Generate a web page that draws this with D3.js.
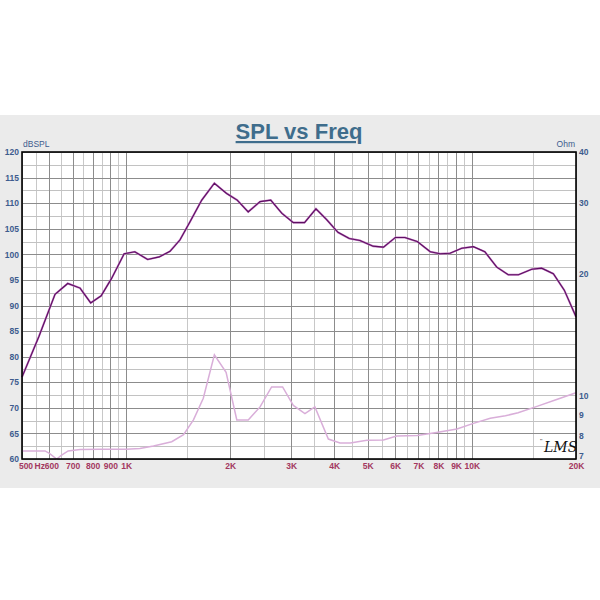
<!DOCTYPE html>
<html lang="en">
<head>
<meta charset="UTF-8">
<title>SPL vs Freq</title>
<script src="https://d3js.org/d3.v7.min.js"></script>
<style>
  body { margin: 0; background: #fff; }
  svg { display: block; font-family: Arial, "Liberation Sans", sans-serif; }
</style>
</head>
<body>
<div id="chart"></div>
<script>
// SPL curve (Hz, dB)
const splFreq = [500, 560, 623, 678, 736, 790, 847, 908, 987, 1060, 1154, 1247, 1340, 1431, 1532, 1655, 1800, 1953, 2095, 2255, 2440, 2620, 2822, 3045, 3281, 3540, 3800, 4100, 4420, 4745, 5180, 5550, 6010, 6400, 6950, 7580, 8090, 8640, 9350, 10100, 10900, 11800, 12740, 13630, 14900, 15900, 17200, 18500, 20000];
const splDb = [76.0, 84.0, 92.2, 94.3, 93.4, 90.5, 91.9, 95.3, 100.1, 100.5, 99.0, 99.5, 100.6, 102.8, 106.4, 110.6, 113.9, 111.9, 110.6, 108.3, 110.3, 110.6, 108.0, 106.2, 106.2, 108.9, 106.8, 104.3, 103.1, 102.7, 101.6, 101.4, 103.3, 103.3, 102.5, 100.5, 100.1, 100.2, 101.2, 101.5, 100.5, 97.5, 96.0, 96.0, 97.1, 97.3, 96.2, 93.0, 87.8];

// impedance curve (Hz, Ohm)
const zFreq = [500, 583, 600, 630, 651, 680, 736, 840, 1000, 1096, 1200, 1355, 1466, 1566, 1672, 1800, 1946, 2090, 2255, 2440, 2635, 2835, 3045, 3290, 3515, 3845, 4155, 4450, 4970, 5550, 6060, 6950, 7900, 9050, 10100, 11300, 12500, 13600, 15500, 17500, 20000];
const zOhm = [7.33, 7.33, 7.23, 7.0, 7.16, 7.33, 7.39, 7.40, 7.40, 7.43, 7.54, 7.72, 8.04, 8.74, 9.88, 12.64, 11.45, 8.74, 8.74, 9.41, 10.54, 10.54, 9.49, 9.06, 9.41, 7.84, 7.67, 7.67, 7.79, 7.80, 7.98, 8.00, 8.14, 8.30, 8.57, 8.82, 8.95, 9.10, 9.45, 9.80, 10.2];

// axes
const freqTicks = [500, 600, 700, 800, 900, 1000, 2000, 3000, 4000, 5000, 6000, 7000, 8000, 9000, 10000, 20000];
const freqLabels = ["500", "600", "700", "800", "900", "1K", "2K", "3K", "4K", "5K", "6K", "7K", "8K", "9K", "10K", "20K"];
const freqMinor = [550, 650, 750, 850, 950, 1500, 2500, 3500, 4500, 5500, 6500, 7500, 8500, 9500, 15000];
const dbTicks = [60, 65, 70, 75, 80, 85, 90, 95, 100, 105, 110, 115, 120];
const dbMinor = [62.5, 67.5, 72.5, 77.5, 82.5, 87.5, 92.5, 97.5, 102.5, 107.5, 112.5, 117.5];
const ohmTicks = [7, 8, 9, 10, 20, 30, 40];

const W = 600, H = 600;
const plot = { left: 22, right: 576, top: 152, bottom: 459 };

const svg = d3.select("#chart").append("svg")
    .attr("width", W)
    .attr("height", H);

// grey panel
svg.append("rect")
    .attr("x", 0).attr("y", 115)
    .attr("width", W).attr("height", 373)
    .attr("fill", "#ebebeb");

// title
svg.append("text")
    .attr("x", 299).attr("y", 139)
    .attr("text-anchor", "middle")
    .attr("font-size", 22)
    .attr("font-weight", "bold")
    .attr("fill", "#3f6d8c")
    .attr("text-decoration", "underline")
    .text("SPL vs Freq");

const x = d3.scaleLog().domain([500, 20000]).range([plot.left, plot.right]);
const y = d3.scaleLinear().domain([60, 120]).range([plot.bottom, plot.top]);
const yz = d3.scaleLog().domain([7, 40]).range([plot.bottom, plot.top]);

svg.append("rect")
    .attr("x", plot.left).attr("y", plot.top)
    .attr("width", plot.right - plot.left)
    .attr("height", plot.bottom - plot.top)
    .attr("fill", "#fff");

const grid = svg.append("g");

// minor grid
grid.selectAll(".vminor").data(freqMinor).enter().append("line")
    .attr("x1", d => Math.round(x(d)) + 0.5).attr("x2", d => Math.round(x(d)) + 0.5)
    .attr("y1", plot.top).attr("y2", plot.bottom)
    .attr("stroke", "#c8c8c8");
grid.selectAll(".hminor").data(dbMinor).enter().append("line")
    .attr("x1", plot.left).attr("x2", plot.right)
    .attr("y1", d => Math.round(y(d)) + 0.5).attr("y2", d => Math.round(y(d)) + 0.5)
    .attr("stroke", "#c2c2c2");

// major grid
grid.selectAll(".vmajor").data(freqTicks).enter().append("line")
    .attr("x1", d => Math.round(x(d)) + 0.5).attr("x2", d => Math.round(x(d)) + 0.5)
    .attr("y1", plot.top).attr("y2", plot.bottom)
    .attr("stroke", "#8c8c8c");
grid.selectAll(".hmajor").data(dbTicks).enter().append("line")
    .attr("x1", plot.left).attr("x2", plot.right)
    .attr("y1", d => Math.round(y(d)) + 0.5).attr("y2", d => Math.round(y(d)) + 0.5)
    .attr("stroke", "#8c8c8c");

// curves
const zLine = d3.line()
    .x((d, i) => x(zFreq[i]))
    .y(d => yz(d));
svg.append("path")
    .datum(zOhm)
    .attr("d", zLine)
    .attr("fill", "none")
    .attr("stroke", "#d9aed9")
    .attr("stroke-width", 1.5);

const splLine = d3.line()
    .x((d, i) => x(splFreq[i]))
    .y(d => y(d));
svg.append("path")
    .datum(splDb)
    .attr("d", splLine)
    .attr("fill", "none")
    .attr("stroke", "#c07ac0")
    .attr("stroke-width", 2.0);
svg.append("path")
    .datum(splDb)
    .attr("d", splLine)
    .attr("fill", "none")
    .attr("stroke", "#5e0f63")
    .attr("stroke-width", 1.1);

// frame
svg.append("rect")
    .attr("x", plot.left).attr("y", plot.top)
    .attr("width", plot.right - plot.left)
    .attr("height", plot.bottom - plot.top)
    .attr("fill", "none")
    .attr("stroke", "#000")
    .attr("stroke-width", 1.6);

// left axis
const leftAxis = svg.append("g")
    .attr("transform", `translate(${plot.left - 2},0)`)
    .call(d3.axisLeft(y).tickValues(dbTicks).tickSize(0).tickPadding(1));
leftAxis.select(".domain").remove();
leftAxis.selectAll("text")
    .attr("font-family", "Arial, 'Liberation Sans', sans-serif")
    .attr("font-size", 8.5)
    .attr("font-weight", "bold")
    .attr("fill", "#3d5c8e");

svg.append("text")
    .attr("x", plot.left + 1).attr("y", plot.top - 5)
    .attr("font-size", 8.5)
    .attr("fill", "#3d5c8e")
    .text("dBSPL");

// right axis
const rightAxis = svg.append("g")
    .attr("transform", `translate(${plot.right + 2},0)`)
    .call(d3.axisRight(yz).tickValues(ohmTicks).tickFormat(d3.format("d")).tickSize(0).tickPadding(1));
rightAxis.select(".domain").remove();
rightAxis.selectAll("text")
    .attr("font-family", "Arial, 'Liberation Sans', sans-serif")
    .attr("font-size", 8.5)
    .attr("font-weight", "bold")
    .attr("fill", "#3d5c8e")
    .attr("y", d => d === 7 ? -3 : 0);

svg.append("text")
    .attr("x", plot.right - 1).attr("y", plot.top - 5)
    .attr("text-anchor", "end")
    .attr("font-size", 8.5)
    .attr("fill", "#3d5c8e")
    .text("Ohm");

// bottom axis
const bottomAxis = svg.append("g")
    .attr("transform", `translate(0,${plot.bottom + 1})`)
    .call(d3.axisBottom(x).tickValues(freqTicks).tickFormat((d, i) => freqLabels[i]).tickSize(0).tickPadding(3));
bottomAxis.select(".domain").remove();
bottomAxis.selectAll("text")
    .attr("font-family", "Arial, 'Liberation Sans', sans-serif")
    .attr("font-size", 8.5)
    .attr("font-weight", "bold")
    .attr("fill", "#a3385f")
    .attr("dx", (d, i) => i === 0 ? 3.5 : (i === 1 ? 2 : 0));

svg.append("text")
    .attr("x", 45).attr("y", plot.bottom + 4)
    .attr("dy", "0.71em")
    .attr("text-anchor", "end")
    .attr("font-size", 8.5)
    .attr("font-weight", "bold")
    .attr("fill", "#a3385f")
    .text("Hz");

// LMS mark
svg.append("text")
    .attr("x", 544).attr("y", 452)
    .attr("font-family", "'DejaVu Serif', serif")
    .attr("font-style", "italic")
    .attr("font-size", 14)
    .attr("fill", "#111")
    .text("LMS");
svg.append("text")
    .attr("x", 540).attr("y", 443)
    .attr("font-size", 6)
    .attr("fill", "#111")
    .text("''");
</script>
</body>
</html>
